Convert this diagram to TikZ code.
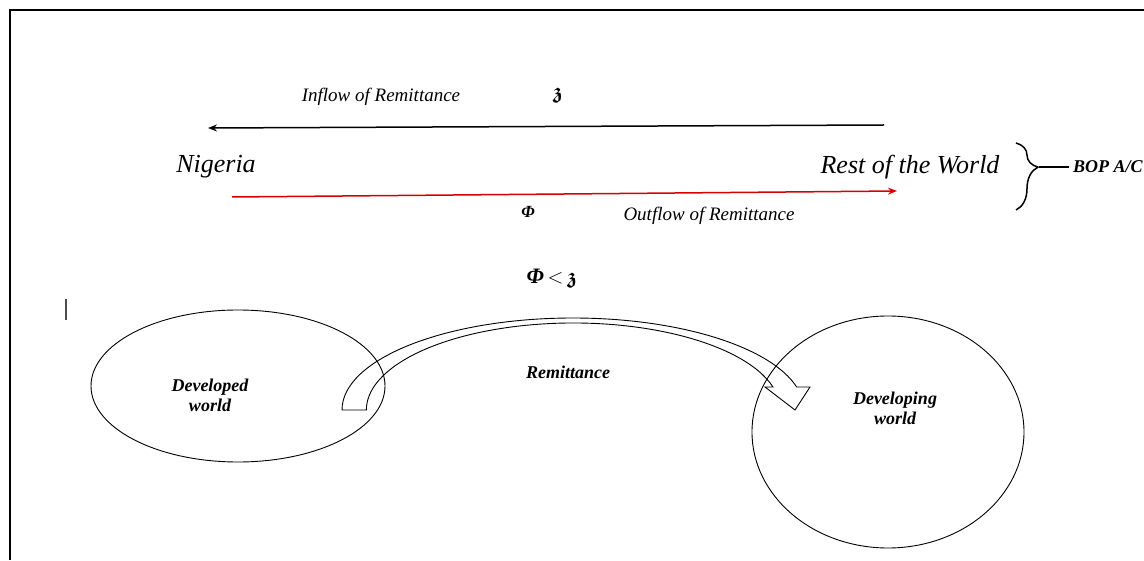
\documentclass[tikz,border=0pt]{standalone}
\usepackage{amsmath,amssymb,bm}
\usepackage{fontspec}
\setmainfont{Liberation Serif}
\usetikzlibrary{arrows.meta,shapes.geometric,decorations.pathreplacing}
\tikzset{
  lbl/.style={font=\fontsize{19}{22}\selectfont\itshape, inner sep=0pt},
  place/.style={font=\fontsize{26}{28}\selectfont\itshape, inner sep=0pt},
  bold/.style={font=\fontsize{18}{20}\selectfont\bfseries\itshape, inner sep=0pt, align=center},
  flow/.style={line width=1.5pt, -{Stealth[length=9pt,width=7pt]}},
  world/.style={draw, ellipse, line width=0.9pt, inner sep=0pt},
}
\begin{document}
\begin{tikzpicture}[x=1pt,y=1pt]
\useasboundingbox (0,0) rectangle (1144,560);
% frame
\draw[line width=2pt] (10,0) -- (10,550) -- (1144,550);
% top flows
\coordinate (inT) at (884,435);
\coordinate (inH) at (208,432);
\coordinate (outT) at (232,363);
\coordinate (outH) at (897,369);
\draw[flow] (inT) -- (inH);
\draw[flow, red!85!black] (outT) -- (outH);
\node[lbl] (inlbl) at (381,463) {Inflow of Remittance};
\node[inner sep=0pt, font=\fontsize{22}{24}\selectfont] (zz) at (558,465) {$\bm{\mathfrak{z}}$};
\node[place] (nig) at (216,393) {Nigeria};
\node[place] (row) at (910,393) {Rest of the World};
\node[inner sep=0pt, font=\fontsize{17}{20}\selectfont\bfseries\itshape] (phi) at (528,348) {Φ};
\node[lbl] (outlbl) at (709,344) {Outflow of Remittance};
% brace
\draw[line width=1.5pt, decorate, decoration={brace, amplitude=22pt, aspect=0.36}] (1016,417) -- (1016,350);
\node[font=\fontsize{18}{20}\selectfont\bfseries\itshape, inner sep=0pt, anchor=west] (bop) at (1073,393) {BOP A/C};
\coordinate (tip) at (1039,393);
\draw[line width=1.5pt] (tip) -- ([xshift=-4pt]bop.west);
% inequality
\node[inner sep=0pt, font=\fontsize{22}{24}\selectfont\bfseries\itshape] (ineq) at (552,282) {Φ\,$<$\,$\bm{\mathfrak{z}}$};
% cursor bar
\coordinate (c1) at (66,261);
\coordinate (c2) at (66,240);
\draw[line width=1.2pt, black!70] (c1) -- (c2);
% worlds
\node[world, minimum width=294pt, minimum height=152pt] (dev) at (238,174) {};
\node[world, minimum width=272pt, minimum height=232pt] (devg) at (888,128) {};
\node[bold] (devlbl) at (210,165) {Developed\\world};
\node[bold] (devglbl) at (895,152) {Developing\\world};
\node[bold] (rem) at (568,188) {Remittance};
% curved block arrow
\draw[line width=0.9pt, line join=miter]
  (342,150) arc[start angle=180, end angle=14.48, x radius=231, y radius=92]
  -- (810,173) -- (795,150) -- (765,173) -- (773,173)
  arc[start angle=15.33, end angle=180, x radius=207, y radius=87] -- cycle;
\end{tikzpicture}
\end{document}
